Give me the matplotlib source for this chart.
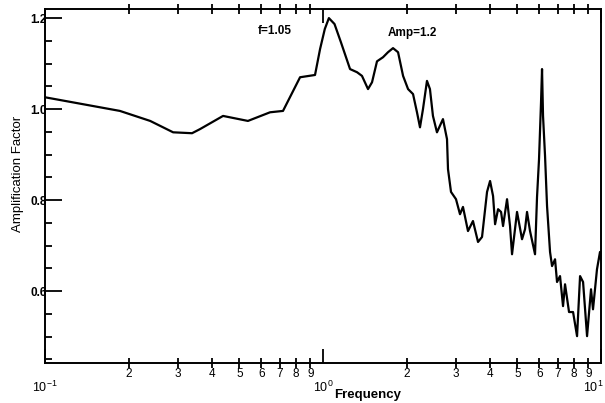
import matplotlib
matplotlib.use("Agg")
import matplotlib.pyplot as plt
import matplotlib.transforms as mtransforms
from matplotlib.ticker import FixedLocator, FixedFormatter, MultipleLocator

plt.rcParams['font.family'] = ['Liberation Sans', 'DejaVu Sans']
plt.rcParams['mathtext.fontset'] = 'custom'
plt.rcParams['mathtext.rm'] = 'Liberation Sans'

# Amplification spectrum: frequency (Hz) and amplification factor
frequency = [
    0.100, 0.186, 0.239, 0.289, 0.338, 0.361, 0.437, 0.537, 0.645, 0.718,
    0.827, 0.936, 0.976, 1.015, 1.050, 1.100, 1.160, 1.251, 1.326, 1.381,
    1.452, 1.501, 1.564, 1.644, 1.713, 1.786, 1.862, 1.941, 2.023, 2.108,
    2.178, 2.233, 2.289, 2.366, 2.425, 2.486, 2.570, 2.701, 2.793, 2.816,
    2.887, 3.009, 3.110, 3.188, 3.323, 3.463, 3.611, 3.733, 3.891, 3.990,
    4.090, 4.159, 4.263, 4.370, 4.443, 4.592, 4.707, 4.786, 4.988, 5.199,
    5.330, 5.419, 5.555, 5.790, 5.887, 5.985, 6.085, 6.136, 6.187, 6.291,
    6.396, 6.557, 6.667, 6.834, 6.948, 7.122, 7.302, 7.424, 7.674, 7.934,
    8.201, 8.408, 8.620, 8.909, 9.207, 9.359, 9.673, 9.917, 10.0,
]
amplification = [
    1.026, 0.996, 0.974, 0.949, 0.947, 0.956, 0.985, 0.974, 0.993, 0.996,
    1.070, 1.075, 1.132, 1.176, 1.200, 1.187, 1.147, 1.088, 1.081, 1.073,
    1.044, 1.059, 1.105, 1.114, 1.125, 1.134, 1.125, 1.073, 1.044, 1.033,
    0.993, 0.960, 1.000, 1.062, 1.044, 0.985, 0.949, 0.978, 0.934, 0.868,
    0.818, 0.802, 0.769, 0.785, 0.732, 0.754, 0.708, 0.719, 0.818, 0.842,
    0.809, 0.747, 0.780, 0.774, 0.743, 0.802, 0.743, 0.681, 0.774, 0.714,
    0.736, 0.774, 0.732, 0.681, 0.807, 0.890, 1.015, 1.088, 0.985, 0.897,
    0.787, 0.686, 0.655, 0.670, 0.620, 0.633, 0.567, 0.615, 0.554, 0.554,
    0.501, 0.633, 0.620, 0.501, 0.604, 0.560, 0.648, 0.686, 0.670,
]

peak_f = 1.05
peak_amp = 1.2

fig = plt.figure(figsize=(6.05, 4.03), dpi=100)
ax = fig.add_axes([45 / 605, 1 - 363 / 403, 556 / 605, 354 / 403])

ax.plot(frequency, amplification, color='black', linewidth=1.6)

ax.set_xscale('log')
ax.set_xlim(0.1, 10)
ax.set_ylim(0.442, 1.22)

for s in ax.spines.values():
    s.set_linewidth(1.4)
    s.set_color('black')

# x ticks: decades plus labelled 2..9 minors
ax.xaxis.set_major_locator(FixedLocator([0.1, 1, 10]))
ax.xaxis.set_major_formatter(FixedFormatter([r'10$^{-1}$', r'10$^{0}$', r'10$^{1}$']))
minors = [m * d for d in (0.1, 1) for m in range(2, 10)]
ax.xaxis.set_minor_locator(FixedLocator(minors))
ax.xaxis.set_minor_formatter(FixedFormatter([str(m) for m in range(2, 10)] * 2))
ax.tick_params(axis='x', which='major', direction='in', length=10, width=1.3,
               pad=12, labelsize=9, top=True)
ax.tick_params(axis='x', which='minor', direction='inout', length=7, width=1.3,
               pad=0, labelsize=8.5, top=True)
last = ax.get_xticklabels()[-1]
last.set_horizontalalignment('right')
last.set_transform(last.get_transform() +
                   mtransforms.ScaledTranslation(3 / 100, 0, fig.dpi_scale_trans))

# y ticks
ax.yaxis.set_major_locator(FixedLocator([0.6, 0.8, 1.0, 1.2]))
ax.yaxis.set_major_formatter(FixedFormatter(['0.6', '0.8', '1.0', '1.2']))
ax.yaxis.set_minor_locator(MultipleLocator(0.05))
ax.tick_params(axis='y', which='major', direction='in', length=12, width=1.3,
               pad=-1, labelsize=8.5)
ax.tick_params(axis='y', which='minor', direction='in', length=5, width=1.3)
for lbl in ax.get_yticklabels():
    lbl.set_fontweight('bold')

fig.text(18 / 605, 1 - 174 / 403, 'Amplification Factor', rotation=90,
         ha='center', va='center', fontsize=9.5)
fig.text(368 / 605, 1 - 395 / 403, 'Frequency', ha='center', va='center',
         fontsize=9.5, fontweight='bold')

ax.text(0.583, 1.171, 'f=%.2f' % peak_f, fontsize=8.5, fontweight='bold',
        ha='left', va='center')
ax.text(1.71, 1.167, 'Amp=%.1f' % peak_amp, fontsize=8.5, fontweight='bold',
        ha='left', va='center')

fig.savefig('out.png', dpi=100)
